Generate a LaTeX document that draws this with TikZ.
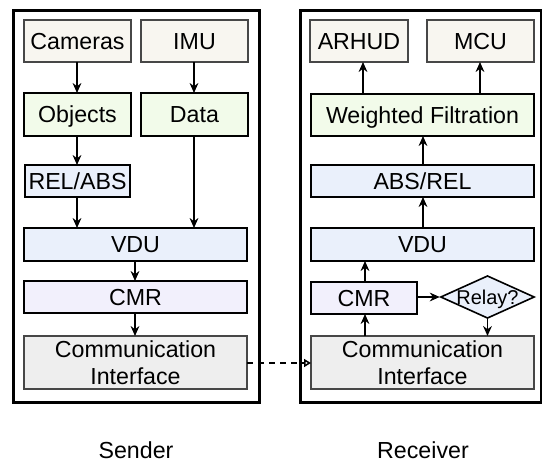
\documentclass[tikz,border=0pt]{standalone}
\usepackage{fontspec}
\setmainfont{Liberation Sans}
\usetikzlibrary{arrows.meta,shapes.geometric}
\definecolor{beigefill}{HTML}{F8F6F0}
\definecolor{greenfill}{HTML}{F2FBEA}
\definecolor{bluefill}{HTML}{EAF0FB}
\definecolor{lavfill}{HTML}{F2F0FC}
\definecolor{grayfill}{HTML}{EEEEEE}
\tikzset{
  base/.style={rectangle, inner sep=0pt, outer sep=0pt, font=\fontsize{11.6}{13.5}\selectfont, align=center},
  one/.style={text height=8.3pt, text depth=0pt},
  srcbox/.style={base, one, draw=black!72, line width=0.7pt, fill=beigefill},
  grnbox/.style={base, one, draw=black, line width=0.8pt, fill=greenfill},
  blubox/.style={base, one, draw=black, line width=0.8pt, fill=bluefill},
  lavbox/.style={base, one, draw=black, line width=0.9pt, fill=lavfill},
  combox/.style={base, draw=black!72, line width=0.7pt, fill=grayfill},
  outerbox/.style={draw=black, line width=1.5pt, fill=none},
  decision/.style={diamond, draw=black, line width=0.8pt, fill=bluefill, inner sep=0pt, aspect=2.2, font=\fontsize{10}{11}\selectfont, text height=7.2pt, text depth=0pt},
  arr/.style={line width=0.75pt, -{Stealth[length=5pt,width=4.4pt]}},
  darr/.style={line width=0.75pt, dash pattern=on 3pt off 2.5pt, -{Triangle[open,length=3.5pt,width=4pt]}},
  caption/.style={font=\fontsize{11.6}{13.5}\selectfont, text height=8.3pt, text depth=0pt}
}
\begin{document}
\begin{tikzpicture}[x=0.5pt,y=-0.5pt]
\useasboundingbox (0,0) rectangle (542,462);
% outer frames
\draw[outerbox] (13.5,10) rectangle (259,402);
\draw[outerbox] (300,10) rectangle (541,402);
% Sender nodes
\node[srcbox, minimum width=53.5pt, minimum height=21pt] (cam) at (77.5,41) {Cameras};
\node[srcbox, minimum width=53.5pt, minimum height=21pt] (imu) at (194.5,41) {IMU};
\node[grnbox, minimum width=53.5pt, minimum height=21.5pt] (obj) at (77.5,114.5) {Objects};
\node[grnbox, minimum width=53.5pt, minimum height=21.5pt] (data) at (194.5,114.5) {Data};
\node[blubox, minimum width=52.5pt, minimum height=16pt] (relabs) at (77.5,181) {REL/ABS};
\node[blubox, minimum width=111.5pt, minimum height=16.5pt] (vdu) at (135.5,244.5) {VDU};
\node[lavbox, minimum width=111.5pt, minimum height=16pt] (cmr) at (135.5,297) {CMR};
\node[combox, minimum width=111.5pt, minimum height=26.5pt] (comm) at (135.5,362.5) {Communication\\Interface};
% Receiver nodes
\node[srcbox, minimum width=49pt, minimum height=21pt] (arhud) at (359,41) {ARHUD};
\node[srcbox, minimum width=53.5pt, minimum height=21pt] (mcu) at (480.5,41) {MCU};
\node[grnbox, minimum width=111.5pt, minimum height=21pt] (wf) at (422.5,115) {Weighted Filtration};
\node[blubox, minimum width=111.5pt, minimum height=16pt] (absrel) at (422.5,181) {ABS/REL};
\node[blubox, minimum width=111.5pt, minimum height=16.5pt] (vdu2) at (422.5,244.5) {VDU};
\node[lavbox, minimum width=53pt, minimum height=16pt] (cmr2) at (364,298) {CMR};
\node[decision, minimum width=46.5pt, minimum height=21pt] (relay) at (487.5,297) {Relay?};
\node[combox, minimum width=111.5pt, minimum height=26.5pt] (comm2) at (422.5,362.5) {Communication\\Interface};
% captions
\node[caption] (snd) at (136,450) {Sender};
\node[caption] (rcv) at (423,450) {Receiver};
% helper coordinates for arrow positions
\coordinate (xl) at (77,0);
\coordinate (xr) at (194,0);
\coordinate (xm) at (135,0);
\coordinate (xa) at (363,0);
\coordinate (xb) at (480,0);
\coordinate (xc) at (423,0);
\coordinate (xd) at (365,0);
\coordinate (yc) at (0,297);
\coordinate (yd) at (0,363);
% Sender arrows
\draw[arr] (cam.south -| xl) -- (obj.north -| xl);
\draw[arr] (imu.south -| xr) -- (data.north -| xr);
\draw[arr] (obj.south -| xl) -- (relabs.north -| xl);
\draw[arr] (relabs.south -| xl) -- (vdu.north -| xl);
\draw[arr] (data.south -| xr) -- (vdu.north -| xr);
\draw[arr] (vdu.south -| xm) -- (cmr.north -| xm);
\draw[arr] (cmr.south -| xm) -- (comm.north -| xm);
% link
\draw[darr] (comm.east |- yd) -- (comm2.west |- yd);
% Receiver arrows
\draw[arr] (wf.north -| xa) -- (arhud.south -| xa);
\draw[arr] (wf.north -| xb) -- (mcu.south -| xb);
\draw[arr] (absrel.north -| xc) -- (wf.south -| xc);
\draw[arr] (vdu2.north -| xc) -- (absrel.south -| xc);
\draw[arr] (cmr2.north -| xd) -- (vdu2.south -| xd);
\draw[arr] (comm2.north -| xd) -- (cmr2.south -| xd);
\draw[arr] (cmr2.east |- yc) -- (relay.west);
\draw[arr] (relay.south) -- (comm2.north -| relay.south);
\end{tikzpicture}
\end{document}
